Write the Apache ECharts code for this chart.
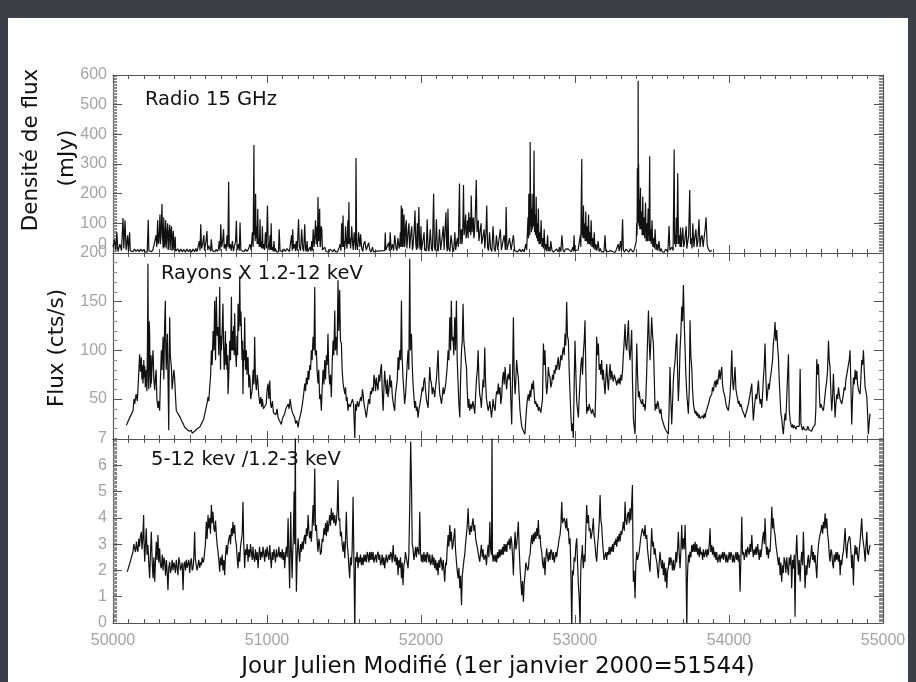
<!DOCTYPE html>
<html><head><meta charset="utf-8">
<script src="https://cdn.jsdelivr.net/npm/echarts@6/dist/echarts.min.js"></script>
<style>html,body{margin:0;padding:0;background:#3c3f45;}#c{width:916px;height:682px;}</style>
</head><body><div id="c"></div>
<script>
// ---------- DATA (MJD, value) ----------
const xTicks = [50000, 51000, 52000, 53000, 54000, 55000];
const panelTitles = ["Radio 15 GHz", "Rayons X 1.2-12 keV", "5-12 kev /1.2-3 keV"];
const radioData = [[50000,20],[50010,45],[50018,10],[50025,70],[50032,5],[50045,30],[50055,8],[50065,118],[50070,15],[50078,110],[50085,10],[50095,60],[50100,5],[50108,70],[50112,8],[50120,14],[50130,4],[50140,13],[50150,5],[50160,12],[50170,4],[50180,13],[50190,5],[50200,12],[50208,4],[50215,10],[50222,3],[50229,112],[50233,8],[50240,14],[50250,4],[50260,12],[50272,12],[50280,60],[50284,20],[50290,110],[50294,30],[50298,40],[50302,90],[50305,130],[50308,30],[50312,60],[50318,165],[50322,50],[50326,15],[50330,120],[50333,20],[50336,30],[50342,110],[50345,15],[50348,20],[50352,80],[50355,100],[50358,10],[50360,20],[50364,70],[50368,95],[50371,10],[50374,15],[50377,80],[50380,90],[50383,8],[50386,15],[50389,60],[50392,75],[50395,10],[50398,20],[50401,40],[50404,55],[50407,6],[50410,8],[50420,14],[50430,3],[50440,13],[50450,4],[50460,12],[50470,3],[50480,13],[50490,4],[50500,12],[50510,3],[50520,13],[50530,4],[50538,15],[50545,5],[50552,20],[50560,40],[50565,8],[50570,97],[50575,15],[50582,30],[50590,60],[50594,8],[50598,10],[50604,40],[50610,74],[50615,10],[50622,25],[50630,30],[50634,6],[50638,46],[50645,8],[50652,14],[50660,4],[50670,12],[50678,5],[50685,15],[50690,40],[50695,8],[50700,97],[50705,20],[50712,40],[50718,80],[50722,15],[50730,30],[50735,8],[50740,60],[50746,20],[50751,240],[50755,15],[50762,30],[50768,8],[50775,40],[50782,6],[50790,10],[50796,40],[50801,109],[50806,10],[50815,30],[50820,8],[50825,103],[50830,10],[50840,14],[50850,4],[50860,13],[50870,5],[50880,14],[50890,30],[50897,10],[50905,70],[50910,20],[50915,364],[50918,60],[50920,150],[50923,40],[50926,200],[50929,50],[50932,90],[50936,30],[50940,149],[50943,30],[50946,50],[50950,20],[50955,114],[50958,20],[50962,40],[50966,15],[50970,90],[50974,15],[50978,30],[50984,10],[50990,70],[50996,15],[51003,160],[51008,30],[51014,10],[51020,60],[51024,10],[51027,100],[51031,10],[51035,20],[51040,5],[51045,40],[51050,5],[51055,15],[51062,4],[51070,10],[51075,4],[51079,80],[51085,8],[51092,14],[51100,4],[51110,13],[51120,5],[51130,15],[51140,20],[51146,5],[51152,30],[51160,60],[51164,8],[51167,80],[51172,15],[51180,30],[51185,6],[51190,40],[51196,8],[51205,114],[51210,20],[51218,8],[51225,80],[51232,15],[51238,6],[51245,97],[51250,15],[51255,5],[51260,40],[51265,4],[51270,10],[51280,20],[51285,5],[51290,40],[51295,8],[51300,80],[51306,20],[51310,50],[51315,110],[51320,30],[51325,90],[51328,20],[51331,189],[51336,40],[51340,100],[51342,149],[51345,20],[51348,30],[51352,90],[51356,80],[51360,10],[51362,15],[51368,4],[51375,20],[51384,5],[51394,10],[51402,3],[51410,13],[51420,12],[51428,4],[51436,13],[51445,4],[51450,10],[51458,4],[51466,14],[51475,30],[51480,8],[51485,100],[51490,20],[51494,126],[51497,20],[51500,40],[51505,10],[51510,90],[51516,30],[51520,15],[51525,110],[51528,30],[51532,172],[51535,30],[51538,50],[51543,15],[51550,90],[51556,30],[51560,10],[51566,70],[51572,30],[51575,10],[51578,320],[51582,30],[51588,10],[51595,70],[51603,20],[51608,63],[51615,15],[51622,5],[51628,30],[51635,40],[51645,10],[51652,4],[51660,35],[51668,10],[51676,3],[51685,20],[51692,4],[51700,8],[51709,6],[51764,8],[51768,69],[51772,10],[51780,5],[51790,35],[51795,8],[51800,70],[51806,10],[51810,6],[51815,30],[51822,8],[51830,60],[51838,15],[51844,8],[51850,50],[51858,15],[51862,30],[51866,70],[51869,20],[51872,160],[51876,60],[51878,20],[51880,150],[51883,20],[51885,40],[51888,110],[51890,130],[51893,20],[51896,30],[51900,90],[51905,110],[51908,15],[51912,20],[51918,80],[51922,100],[51926,15],[51930,20],[51935,70],[51940,90],[51944,10],[51948,20],[51955,70],[51961,143],[51966,30],[51971,10],[51976,100],[51980,15],[51986,155],[51991,30],[51995,10],[52000,90],[52004,10],[52008,15],[52014,5],[52020,70],[52024,8],[52028,15],[52034,6],[52040,114],[52046,15],[52052,6],[52060,80],[52068,15],[52074,6],[52082,200],[52087,20],[52093,8],[52100,114],[52106,15],[52112,6],[52120,80],[52128,10],[52136,5],[52145,90],[52150,10],[52156,4],[52162,137],[52167,20],[52171,6],[52175,149],[52180,15],[52188,5],[52195,60],[52205,15],[52212,5],[52220,70],[52225,10],[52230,30],[52236,50],[52242,20],[52250,234],[52254,30],[52258,70],[52262,80],[52265,30],[52268,40],[52272,100],[52276,229],[52280,60],[52285,90],[52290,130],[52293,50],[52296,60],[52302,110],[52306,50],[52310,137],[52316,70],[52320,120],[52323,60],[52326,194],[52332,70],[52336,110],[52340,120],[52343,50],[52346,60],[52352,120],[52359,246],[52364,70],[52368,90],[52372,110],[52376,40],[52380,40],[52385,80],[52390,100],[52394,30],[52398,30],[52404,60],[52410,80],[52414,15],[52418,20],[52422,70],[52427,160],[52432,20],[52438,8],[52445,70],[52452,15],[52460,5],[52468,90],[52475,15],[52482,5],[52490,60],[52498,10],[52506,5],[52515,80],[52522,10],[52530,5],[52540,60],[52548,10],[52553,155],[52558,10],[52566,4],[52575,50],[52585,10],[52592,4],[52600,60],[52608,8],[52618,14],[52630,4],[52640,13],[52650,4],[52660,12],[52670,4],[52680,30],[52686,10],[52690,60],[52695,120],[52698,50],[52700,200],[52703,80],[52705,140],[52707,60],[52709,374],[52712,90],[52714,200],[52717,70],[52720,150],[52723,80],[52727,200],[52730,90],[52734,345],[52737,70],[52740,130],[52744,60],[52748,190],[52751,50],[52755,100],[52758,40],[52762,150],[52766,30],[52770,70],[52775,30],[52780,110],[52785,20],[52790,50],[52795,15],[52800,80],[52805,10],[52810,30],[52816,5],[52822,60],[52827,6],[52832,20],[52838,5],[52843,40],[52850,10],[52860,3],[52870,8],[52880,14],[52890,4],[52900,20],[52908,5],[52915,60],[52922,10],[52930,3],[52938,13],[52945,8],[52955,14],[52965,10],[52975,4],[52985,20],[52990,5],[52994,60],[52998,8],[53008,14],[53020,10],[53028,4],[53035,60],[53038,20],[53040,150],[53044,317],[53046,60],[53048,120],[53052,50],[53055,160],[53058,50],[53062,100],[53066,40],[53070,140],[53074,40],[53078,90],[53083,30],[53088,130],[53092,30],[53095,70],[53100,25],[53105,110],[53110,20],[53115,50],[53120,15],[53125,70],[53130,10],[53135,30],[53142,8],[53150,40],[53157,5],[53165,15],[53172,4],[53180,10],[53188,4],[53195,60],[53200,8],[53208,14],[53215,4],[53230,8],[53240,14],[53248,4],[53255,10],[53262,3],[53270,14],[53280,30],[53287,6],[53295,40],[53302,8],[53309,114],[53314,10],[53322,3],[53330,13],[53340,8],[53350,3],[53360,14],[53370,8],[53378,3],[53386,13],[53395,10],[53398,40],[53400,100],[53403,60],[53405,286],[53407,120],[53408,200],[53409,100],[53410,581],[53412,130],[53413,300],[53416,90],[53418,180],[53421,80],[53425,220],[53428,80],[53432,140],[53436,60],[53440,190],[53444,60],[53448,120],[53452,50],[53458,170],[53462,40],[53466,100],[53470,40],[53475,150],[53480,40],[53485,326],[53488,40],[53490,80],[53495,30],[53500,110],[53505,20],[53510,50],[53515,15],[53520,80],[53526,10],[53532,30],[53538,8],[53545,40],[53552,5],[53560,15],[53566,4],[53573,10],[53580,3],[53588,13],[53595,12],[53603,4],[53611,91],[53616,10],[53623,4],[53630,20],[53637,8],[53644,349],[53647,30],[53650,60],[53654,20],[53658,120],[53662,30],[53667,269],[53672,30],[53678,60],[53682,20],[53685,86],[53690,20],[53695,50],[53700,86],[53705,20],[53710,30],[53716,60],[53722,90],[53726,15],[53730,20],[53738,60],[53745,212],[53750,30],[53756,50],[53760,15],[53765,100],[53772,20],[53778,50],[53785,80],[53792,20],[53798,40],[53805,114],[53812,20],[53818,50],[53825,60],[53832,20],[53838,50],[53845,80],[53851,120],[53858,30],[53864,15],[53870,20],[53875,5],[53880,10],[53885,4],[53889,8]];
const xrayData = [[50087,23],[50100,28],[50115,33],[50130,38],[50136,50],[50141,45],[50150,55],[50158,48],[50165,70],[50173,96],[50178,78],[50184,93],[50188,70],[50190,85],[50195,66],[50200,90],[50203,72],[50206,84],[50210,62],[50216,80],[50220,58],[50224,110],[50227,189],[50230,70],[50232,60],[50235,130],[50238,117],[50241,75],[50244,62],[50247,95],[50249,66],[50254,85],[50260,100],[50265,70],[50271,59],[50275,72],[50280,80],[50285,50],[50292,41],[50297,48],[50303,38],[50308,70],[50314,100],[50318,80],[50325,114],[50328,90],[50330,70],[50335,125],[50340,151],[50343,100],[50346,80],[50350,105],[50353,117],[50358,60],[50362,18],[50365,90],[50368,134],[50372,95],[50379,83],[50384,60],[50390,59],[50395,80],[50400,72],[50405,55],[50411,38],[50416,40],[50422,35],[50430,37],[50437,31],[50444,28],[50452,30],[50458,24],[50465,21],[50472,22],[50480,19],[50487,18],[50495,17],[50500,16],[50508,18],[50514,15],[50520,16],[50530,17],[50541,18],[50550,20],[50556,18],[50563,21],[50572,24],[50580,26],[50588,29],[50595,31],[50603,40],[50610,45],[50617,52],[50622,48],[50628,62],[50634,75],[50639,100],[50644,85],[50650,120],[50655,100],[50660,151],[50663,110],[50666,90],[50669,140],[50671,155],[50676,115],[50682,124],[50687,95],[50693,165],[50696,110],[50698,80],[50701,115],[50704,100],[50709,120],[50714,148],[50718,105],[50722,80],[50725,90],[50730,120],[50733,85],[50736,107],[50740,80],[50744,95],[50747,55],[50752,75],[50758,110],[50763,90],[50769,155],[50772,100],[50776,120],[50779,100],[50784,125],[50787,95],[50790,138],[50795,100],[50801,83],[50805,115],[50809,95],[50812,148],[50816,120],[50820,135],[50823,176],[50827,125],[50831,140],[50834,117],[50838,90],[50841,110],[50844,55],[50848,100],[50851,90],[50855,134],[50860,80],[50866,100],[50870,75],[50873,90],[50877,93],[50882,62],[50886,75],[50890,70],[50894,50],[50898,48],[50904,60],[50910,80],[50915,65],[50920,114],[50925,70],[50931,59],[50936,75],[50940,70],[50946,55],[50953,45],[50960,52],[50965,42],[50970,50],[50977,40],[50985,38],[50995,45],[51001,60],[51007,66],[51012,50],[51018,69],[51023,45],[51028,41],[51035,48],[51042,36],[51050,38],[51058,34],[51065,40],[51072,31],[51080,28],[51086,30],[51093,24],[51100,30],[51108,28],[51115,35],[51122,40],[51129,38],[51137,45],[51144,40],[51150,50],[51158,41],[51165,36],[51172,38],[51180,31],[51186,25],[51194,28],[51202,21],[51208,28],[51216,33],[51223,38],[51230,45],[51238,55],[51245,66],[51250,58],[51256,72],[51262,65],[51267,79],[51272,70],[51278,85],[51283,80],[51288,100],[51293,90],[51299,114],[51305,100],[51310,165],[51314,95],[51321,100],[51325,80],[51331,66],[51336,80],[51342,50],[51347,55],[51353,38],[51358,60],[51364,80],[51370,65],[51375,90],[51380,70],[51386,95],[51391,85],[51396,117],[51401,80],[51407,65],[51412,75],[51418,52],[51423,85],[51429,110],[51434,95],[51440,141],[51444,100],[51450,114],[51455,95],[51461,172],[51466,120],[51472,162],[51477,110],[51483,107],[51488,80],[51494,66],[51500,60],[51506,55],[51510,62],[51515,48],[51520,52],[51526,38],[51532,45],[51540,42],[51548,41],[51555,50],[51562,45],[51570,10],[51575,45],[51580,38],[51587,48],[51595,42],[51602,41],[51608,52],[51614,48],[51620,60],[51624,55],[51630,45],[51638,38],[51645,31],[51652,40],[51660,50],[51667,45],[51672,58],[51678,55],[51684,62],[51690,58],[51695,75],[51700,69],[51705,58],[51710,72],[51715,65],[51721,59],[51726,75],[51732,68],[51738,80],[51743,86],[51748,60],[51754,38],[51759,60],[51764,79],[51770,65],[51776,55],[51781,70],[51786,52],[51792,60],[51798,75],[51803,62],[51808,69],[51813,55],[51818,48],[51824,42],[51829,38],[51834,55],[51840,62],[51846,70],[51851,93],[51856,80],[51862,100],[51868,90],[51873,151],[51877,95],[51883,72],[51888,60],[51894,45],[51900,55],[51905,70],[51910,85],[51916,100],[51921,80],[51927,194],[51931,100],[51938,117],[51943,85],[51948,66],[51953,55],[51959,41],[51964,48],[51970,38],[51975,42],[51981,31],[51987,40],[51993,45],[51998,50],[52003,55],[52008,62],[52013,58],[52018,68],[52024,72],[52030,58],[52035,50],[52040,48],[52046,41],[52051,60],[52057,83],[52062,70],[52068,66],[52073,55],[52078,62],[52084,58],[52089,52],[52094,62],[52100,70],[52106,85],[52111,100],[52116,70],[52122,55],[52128,50],[52133,45],[52138,52],[52144,62],[52149,55],[52154,59],[52160,65],[52166,75],[52171,85],[52176,100],[52181,90],[52187,134],[52192,100],[52197,151],[52202,110],[52208,114],[52213,95],[52219,134],[52224,100],[52230,151],[52235,90],[52241,66],[52246,45],[52252,31],[52257,70],[52263,100],[52268,110],[52273,148],[52278,110],[52284,100],[52289,90],[52295,83],[52300,60],[52306,41],[52311,50],[52317,38],[52323,45],[52330,40],[52337,48],[52343,42],[52349,35],[52355,55],[52360,70],[52366,80],[52371,100],[52376,70],[52381,55],[52387,50],[52392,41],[52397,55],[52403,70],[52408,62],[52414,103],[52419,70],[52425,50],[52430,45],[52436,38],[52442,42],[52447,48],[52452,40],[52458,31],[52463,40],[52468,50],[52474,42],[52481,38],[52486,50],[52491,58],[52497,55],[52502,66],[52507,55],[52513,62],[52518,45],[52524,52],[52529,70],[52535,78],[52540,65],[52546,83],[52551,70],[52556,60],[52562,72],[52567,76],[52572,70],[52578,86],[52583,50],[52589,24],[52594,70],[52600,134],[52605,75],[52611,55],[52616,70],[52621,90],[52626,80],[52632,72],[52637,55],[52643,38],[52648,30],[52654,22],[52660,20],[52665,17],[52670,18],[52675,14],[52681,30],[52686,42],[52691,50],[52697,55],[52702,48],[52708,59],[52713,52],[52719,66],[52724,60],[52730,69],[52735,55],[52740,45],[52745,48],[52751,42],[52756,45],[52762,38],[52767,42],[52773,40],[52778,36],[52784,35],[52789,50],[52795,107],[52800,85],[52805,100],[52811,70],[52816,55],[52822,65],[52827,83],[52832,75],[52838,72],[52843,62],[52849,66],[52854,75],[52860,70],[52865,80],[52870,76],[52876,85],[52881,80],[52887,88],[52892,93],[52897,80],[52903,85],[52908,95],[52914,90],[52919,98],[52924,103],[52930,95],[52935,117],[52940,105],[52946,150],[52951,115],[52957,110],[52962,80],[52968,55],[52973,35],[52979,17],[52984,25],[52989,10],[52994,60],[53000,110],[53005,80],[53011,48],[53016,40],[53022,31],[53027,50],[53033,70],[53038,85],[53044,93],[53049,75],[53054,96],[53060,110],[53065,131],[53070,80],[53076,35],[53081,42],[53087,38],[53092,45],[53098,40],[53103,38],[53108,35],[53114,40],[53119,36],[53125,34],[53130,31],[53135,60],[53141,114],[53146,95],[53152,107],[53157,80],[53163,86],[53168,75],[53173,90],[53179,70],[53184,80],[53190,65],[53195,55],[53200,70],[53206,86],[53211,70],[53217,59],[53222,75],[53228,86],[53233,70],[53238,79],[53244,72],[53249,68],[53255,75],[53260,72],[53266,68],[53271,64],[53277,70],[53282,66],[53287,72],[53293,65],[53298,75],[53303,69],[53309,80],[53314,95],[53320,110],[53325,127],[53330,105],[53336,100],[53341,115],[53347,131],[53352,100],[53357,90],[53363,105],[53368,121],[53373,70],[53379,31],[53384,22],[53390,14],[53395,60],[53401,107],[53406,75],[53412,52],[53417,58],[53422,50],[53428,48],[53433,45],[53439,50],[53444,42],[53450,45],[53455,38],[53460,50],[53466,80],[53471,110],[53477,141],[53482,110],[53487,90],[53493,110],[53498,134],[53504,115],[53509,107],[53515,70],[53520,38],[53525,45],[53531,40],[53536,48],[53541,45],[53547,38],[53552,35],[53558,40],[53563,31],[53568,28],[53574,25],[53579,22],[53585,21],[53590,18],[53595,20],[53600,16],[53606,14],[53611,40],[53617,83],[53622,50],[53628,24],[53633,45],[53639,70],[53644,80],[53650,90],[53655,105],[53661,117],[53666,80],[53671,48],[53677,70],[53682,100],[53688,120],[53693,145],[53698,130],[53704,167],[53709,130],[53715,100],[53720,75],[53726,55],[53731,45],[53736,35],[53742,60],[53747,131],[53752,95],[53758,83],[53763,60],[53769,45],[53774,40],[53780,35],[53785,38],[53790,33],[53796,36],[53801,31],[53807,34],[53812,30],[53818,32],[53823,28],[53829,33],[53834,30],[53840,35],[53845,31],[53850,36],[53856,38],[53861,42],[53866,41],[53872,48],[53877,52],[53882,50],[53888,55],[53893,62],[53899,58],[53904,65],[53910,69],[53915,62],[53920,70],[53926,65],[53931,72],[53937,80],[53942,70],[53948,78],[53953,83],[53958,65],[53964,58],[53969,55],[53974,52],[53980,45],[53985,42],[53990,40],[53996,38],[54001,45],[54007,55],[54012,70],[54018,100],[54023,70],[54029,59],[54034,70],[54039,83],[54045,60],[54050,55],[54056,50],[54061,45],[54066,48],[54072,42],[54077,45],[54083,41],[54088,38],[54094,36],[54099,34],[54104,31],[54110,35],[54115,38],[54121,40],[54126,45],[54131,50],[54137,55],[54142,60],[54148,66],[54153,45],[54158,28],[54164,40],[54169,48],[54175,55],[54180,50],[54186,60],[54191,69],[54196,55],[54202,45],[54207,50],[54213,41],[54218,55],[54223,70],[54229,85],[54234,107],[54240,70],[54245,48],[54250,55],[54256,66],[54261,60],[54267,70],[54272,75],[54278,83],[54283,90],[54288,107],[54294,115],[54299,129],[54304,110],[54310,121],[54315,105],[54321,93],[54326,70],[54332,50],[54337,35],[54342,31],[54348,20],[54353,14],[54358,25],[54364,35],[54369,28],[54375,30],[54380,26],[54386,96],[54391,40],[54397,28],[54402,24],[54407,21],[54413,24],[54418,20],[54424,23],[54429,21],[54434,19],[54440,22],[54445,20],[54451,24],[54456,22],[54462,81],[54467,25],[54472,21],[54478,18],[54483,22],[54489,19],[54494,17],[54500,21],[54505,18],[54511,22],[54516,21],[54521,18],[54527,20],[54532,16],[54537,17],[54543,20],[54548,18],[54554,22],[54559,24],[54564,40],[54570,91],[54575,75],[54581,86],[54586,60],[54591,41],[54597,45],[54602,42],[54608,40],[54613,38],[54618,45],[54624,55],[54629,62],[54635,69],[54640,80],[54646,110],[54651,90],[54656,83],[54662,55],[54667,38],[54672,50],[54678,76],[54683,55],[54689,31],[54694,45],[54700,55],[54705,50],[54711,62],[54716,55],[54721,50],[54727,52],[54732,45],[54738,50],[54743,55],[54748,62],[54754,59],[54759,70],[54765,75],[54770,80],[54776,86],[54781,90],[54786,100],[54792,60],[54797,24],[54802,50],[54808,72],[54813,65],[54819,80],[54824,70],[54830,79],[54835,65],[54840,60],[54846,58],[54851,55],[54856,70],[54862,90],[54867,85],[54873,100],[54878,80],[54884,62],[54889,58],[54895,52],[54900,35],[54905,14],[54910,25],[54916,35]];
const ratioData = [[50093,1.95],[50100,2.1],[50108,2.25],[50115,2.4],[50122,2.55],[50130,2.71],[50135,3.0],[50141,2.97],[50146,2.7],[50152,3.1],[50157,2.8],[50162,2.71],[50167,3.2],[50172,2.9],[50178,3.3],[50184,3.47],[50188,2.8],[50193,3.2],[50199,4.11],[50202,3.0],[50206,2.33],[50211,3.0],[50216,3.6],[50221,2.6],[50227,2.97],[50232,2.3],[50238,1.7],[50243,2.6],[50249,3.47],[50254,2.4],[50260,1.7],[50265,2.5],[50271,1.57],[50276,2.4],[50281,3.09],[50286,2.4],[50292,3.35],[50297,2.3],[50303,2.84],[50308,2.2],[50314,2.08],[50320,2.6],[50325,2.0],[50331,2.5],[50336,2.33],[50341,1.8],[50347,2.4],[50352,1.9],[50357,1.25],[50362,2.1],[50368,2.33],[50373,1.9],[50379,2.08],[50384,2.4],[50390,2.0],[50395,2.3],[50400,2.2],[50405,1.9],[50411,2.4],[50416,2.1],[50422,1.82],[50427,2.5],[50433,2.33],[50438,2.0],[50444,1.95],[50449,2.3],[50455,1.25],[50460,2.2],[50465,2.33],[50471,2.0],[50476,2.4],[50481,2.1],[50487,2.08],[50492,2.4],[50498,1.9],[50503,2.3],[50509,2.46],[50514,2.0],[50520,2.08],[50525,2.5],[50530,3.47],[50535,2.4],[50541,2.33],[50546,2.0],[50552,2.2],[50557,2.4],[50563,2.1],[50568,2.3],[50574,2.2],[50579,2.5],[50585,2.3],[50590,2.4],[50595,2.33],[50600,3.0],[50606,3.85],[50611,3.2],[50617,4.11],[50622,3.6],[50628,4.0],[50633,3.4],[50639,4.49],[50644,3.8],[50649,4.23],[50655,3.6],[50660,3.47],[50666,3.9],[50671,3.35],[50676,3.0],[50682,2.71],[50687,2.4],[50693,1.95],[50698,2.5],[50704,2.2],[50709,2.6],[50714,2.0],[50720,2.4],[50725,1.82],[50730,2.5],[50736,2.97],[50741,2.6],[50747,2.97],[50752,3.2],[50758,3.35],[50763,3.0],[50769,3.6],[50774,3.3],[50779,3.85],[50784,3.4],[50790,3.73],[50795,3.2],[50801,2.97],[50806,2.5],[50812,2.08],[50817,2.7],[50823,2.33],[50828,2.9],[50834,2.97],[50839,3.4],[50844,4.61],[50849,3.0],[50855,2.08],[50860,2.8],[50866,2.59],[50871,3.0],[50877,2.33],[50882,2.8],[50888,2.5],[50893,3.0],[50898,2.71],[50904,2.4],[50909,2.9],[50914,2.5],[50920,2.33],[50925,2.8],[50931,2.4],[50936,2.7],[50942,2.08],[50947,2.6],[50952,2.9],[50958,2.4],[50963,2.71],[50969,2.5],[50974,2.9],[50980,2.6],[50985,2.33],[50990,2.8],[50996,2.5],[51001,2.9],[51007,2.59],[51012,2.4],[51018,2.97],[51023,2.5],[51028,2.08],[51034,2.7],[51039,2.4],[51045,2.8],[51050,2.59],[51055,2.3],[51061,2.8],[51066,2.5],[51072,2.59],[51077,2.9],[51082,2.5],[51088,2.7],[51093,2.46],[51099,2.8],[51104,2.4],[51110,2.7],[51115,2.08],[51120,2.6],[51126,2.9],[51131,2.5],[51137,3.98],[51142,2.6],[51147,1.32],[51150,2.6],[51154,4.23],[51158,2.8],[51163,1.7],[51167,2.7],[51171,3.22],[51176,5.0],[51180,3.0],[51184,7.3],[51187,3.0],[51191,1.19],[51196,2.6],[51202,3.22],[51207,2.7],[51212,2.33],[51218,3.0],[51223,2.71],[51229,3.1],[51234,2.8],[51240,3.2],[51245,3.35],[51250,3.0],[51256,3.6],[51261,3.3],[51267,4.11],[51272,3.5],[51277,3.22],[51283,3.5],[51288,3.09],[51293,3.6],[51299,4.49],[51304,3.7],[51310,5.88],[51315,3.5],[51321,3.73],[51326,3.1],[51331,2.71],[51337,3.2],[51342,2.97],[51347,2.6],[51353,2.71],[51358,3.2],[51364,3.09],[51369,3.6],[51375,3.35],[51380,3.8],[51386,3.3],[51391,3.9],[51396,3.47],[51402,3.8],[51407,4.11],[51412,3.7],[51418,4.36],[51423,3.9],[51429,4.2],[51434,3.8],[51440,4.11],[51445,3.7],[51450,3.85],[51456,4.3],[51461,5.44],[51466,3.9],[51472,3.98],[51477,3.3],[51483,3.47],[51488,3.0],[51494,2.71],[51499,3.1],[51505,2.46],[51510,3.2],[51515,4.23],[51521,3.0],[51526,2.71],[51531,2.2],[51537,1.7],[51542,2.5],[51548,2.2],[51553,2.8],[51559,4.8],[51564,2.5],[51570,-0.3],[51575,2.5],[51580,2.33],[51585,2.7],[51591,2.08],[51596,2.5],[51602,2.3],[51607,2.6],[51613,2.2],[51618,2.5],[51624,2.2],[51629,2.6],[51635,2.33],[51640,2.6],[51646,2.3],[51651,2.7],[51656,2.59],[51662,2.3],[51667,2.7],[51672,2.4],[51678,2.71],[51683,2.4],[51689,2.7],[51694,2.3],[51700,2.33],[51705,2.6],[51711,2.3],[51716,2.6],[51721,2.71],[51727,2.4],[51732,2.6],[51738,2.2],[51743,2.33],[51748,2.6],[51754,2.2],[51759,2.5],[51764,2.08],[51770,2.4],[51775,2.6],[51781,2.3],[51786,2.33],[51792,2.6],[51797,2.4],[51803,2.7],[51808,2.59],[51813,2.3],[51819,2.97],[51824,2.5],[51829,2.33],[51835,2.6],[51840,2.2],[51846,2.5],[51851,1.82],[51856,2.4],[51862,2.1],[51867,2.5],[51873,1.7],[51878,2.3],[51883,1.44],[51889,2.2],[51894,2.33],[51899,2.7],[51905,2.71],[51910,2.3],[51916,2.08],[51921,2.6],[51927,4.49],[51933,6.9],[51938,5.37],[51943,3.0],[51948,2.84],[51954,2.4],[51959,2.59],[51965,2.9],[51970,2.5],[51976,2.9],[51981,2.97],[51987,2.6],[51992,4.23],[51997,2.7],[52003,2.33],[52008,2.6],[52013,2.3],[52019,2.7],[52024,2.33],[52030,2.6],[52035,2.3],[52040,2.7],[52046,2.59],[52051,2.3],[52057,2.6],[52062,2.2],[52068,2.33],[52073,2.6],[52078,2.2],[52084,2.5],[52089,2.08],[52095,2.4],[52100,2.0],[52106,2.3],[52111,1.82],[52116,2.4],[52122,2.1],[52127,2.5],[52133,2.33],[52138,2.0],[52144,2.4],[52149,2.0],[52154,1.57],[52160,2.3],[52165,2.2],[52170,2.8],[52176,3.35],[52181,2.9],[52187,3.73],[52192,3.1],[52197,3.47],[52203,2.8],[52208,2.97],[52214,3.3],[52219,3.6],[52224,2.8],[52230,2.33],[52235,2.0],[52241,1.7],[52246,2.1],[52252,1.32],[52257,1.8],[52263,0.68],[52268,1.8],[52273,2.08],[52279,2.4],[52284,2.59],[52289,3.0],[52295,3.35],[52300,3.7],[52306,4.36],[52311,3.6],[52317,3.35],[52322,3.7],[52328,3.47],[52333,3.8],[52338,3.98],[52344,3.5],[52349,3.73],[52355,3.2],[52360,3.22],[52365,2.9],[52371,2.84],[52376,2.5],[52382,2.33],[52387,2.7],[52392,2.97],[52398,2.5],[52403,2.8],[52409,2.4],[52414,2.33],[52419,2.6],[52425,2.2],[52430,2.6],[52436,2.97],[52441,2.5],[52447,3.85],[52452,2.8],[52458,2.59],[52461,7.3],[52464,2.6],[52468,2.33],[52474,2.6],[52481,2.33],[52486,2.6],[52491,2.3],[52497,2.7],[52502,2.46],[52508,2.8],[52513,2.5],[52519,2.8],[52524,2.59],[52530,2.9],[52535,2.6],[52540,3.0],[52546,2.71],[52551,3.0],[52557,2.7],[52562,3.1],[52567,2.97],[52573,3.2],[52578,2.8],[52584,3.3],[52589,3.09],[52594,2.6],[52600,1.82],[52605,2.8],[52611,3.47],[52616,2.8],[52621,2.97],[52627,3.4],[52632,3.85],[52637,2.9],[52643,2.08],[52648,1.6],[52654,1.06],[52659,1.6],[52665,0.81],[52670,1.5],[52675,1.82],[52681,2.3],[52686,2.33],[52692,2.0],[52697,2.08],[52703,2.5],[52708,2.59],[52713,3.0],[52719,3.35],[52724,3.0],[52730,3.4],[52735,3.1],[52740,3.47],[52746,3.2],[52751,3.6],[52756,3.3],[52762,3.92],[52767,3.2],[52773,3.35],[52778,2.9],[52784,2.71],[52789,2.3],[52795,2.08],[52800,2.5],[52805,1.82],[52811,2.5],[52816,2.84],[52822,2.5],[52827,2.33],[52832,2.7],[52838,2.4],[52843,2.8],[52849,2.71],[52854,2.4],[52860,2.7],[52865,2.3],[52870,2.33],[52876,2.7],[52881,2.5],[52887,2.8],[52892,2.97],[52897,3.2],[52903,3.35],[52908,3.7],[52914,4.61],[52919,3.8],[52924,3.73],[52930,4.0],[52935,3.85],[52940,3.6],[52946,3.98],[52951,3.5],[52957,3.6],[52962,3.0],[52968,3.22],[52973,2.0],[52979,-0.2],[52984,2.0],[52989,1.82],[52995,2.5],[53000,2.33],[53005,2.9],[53011,3.22],[53016,2.4],[53022,1.44],[53027,1.0],[53033,-0.2],[53036,1.5],[53039,2.33],[53044,2.6],[53048,2.97],[53051,2.4],[53054,2.08],[53060,2.6],[53065,2.33],[53070,3.4],[53076,4.49],[53081,3.8],[53087,4.11],[53092,3.5],[53098,3.6],[53103,3.2],[53108,3.35],[53114,3.6],[53119,3.98],[53124,3.3],[53130,2.97],[53135,2.6],[53141,2.33],[53146,2.9],[53152,3.35],[53157,3.8],[53163,4.87],[53168,3.9],[53173,3.73],[53179,3.1],[53184,2.71],[53189,2.4],[53195,2.33],[53200,2.7],[53206,2.4],[53211,2.7],[53217,2.59],[53222,2.9],[53228,2.6],[53233,2.9],[53238,2.71],[53244,3.0],[53249,2.7],[53255,3.1],[53260,2.97],[53265,3.2],[53271,2.9],[53276,3.3],[53282,3.09],[53287,3.4],[53293,3.1],[53298,3.5],[53303,3.35],[53309,3.6],[53314,3.85],[53320,3.5],[53325,4.61],[53330,3.9],[53336,3.73],[53341,4.1],[53347,4.23],[53352,3.8],[53357,4.36],[53363,3.9],[53368,3.85],[53373,5.25],[53376,3.0],[53379,1.57],[53384,2.0],[53390,0.94],[53395,2.2],[53401,2.71],[53406,2.4],[53412,2.33],[53417,2.7],[53422,2.97],[53428,3.3],[53433,3.35],[53438,3.6],[53444,3.6],[53449,3.3],[53455,3.73],[53460,3.2],[53466,3.35],[53471,2.8],[53477,2.46],[53482,2.2],[53487,1.95],[53493,2.8],[53498,3.6],[53504,2.9],[53509,3.09],[53514,2.6],[53520,2.84],[53525,2.5],[53531,2.33],[53536,2.0],[53541,1.7],[53547,2.3],[53552,2.71],[53558,2.3],[53563,2.08],[53568,2.4],[53574,1.82],[53579,2.3],[53585,1.57],[53590,2.1],[53596,1.32],[53601,2.0],[53606,2.08],[53612,2.5],[53617,2.2],[53622,2.5],[53628,2.33],[53633,2.0],[53639,2.4],[53644,2.0],[53650,2.2],[53655,2.7],[53660,2.3],[53666,2.8],[53671,3.47],[53677,2.6],[53682,2.08],[53688,2.8],[53693,3.73],[53698,2.8],[53704,3.22],[53709,2.8],[53715,3.73],[53720,2.6],[53726,-0.2],[53729,1.5],[53732,2.08],[53737,2.6],[53742,2.3],[53747,2.71],[53753,2.5],[53758,2.97],[53764,2.7],[53769,3.0],[53775,2.7],[53780,3.09],[53785,2.7],[53791,3.0],[53796,2.6],[53801,2.84],[53807,2.5],[53812,2.9],[53818,2.6],[53823,2.71],[53829,2.4],[53834,2.8],[53840,2.5],[53845,2.46],[53850,2.8],[53856,2.5],[53861,2.8],[53866,2.59],[53872,3.0],[53877,3.6],[53882,2.7],[53888,2.97],[53893,2.6],[53899,2.9],[53904,2.5],[53910,2.71],[53915,2.4],[53920,2.7],[53926,2.3],[53931,2.33],[53937,2.6],[53942,2.3],[53948,2.6],[53953,2.46],[53958,2.7],[53964,2.4],[53969,2.7],[53974,2.59],[53980,2.3],[53985,2.6],[53991,2.3],[53996,2.46],[54001,2.7],[54007,2.4],[54012,2.7],[54018,2.59],[54023,2.3],[54029,2.6],[54034,2.3],[54039,2.46],[54045,2.7],[54050,2.4],[54056,2.7],[54061,2.33],[54066,2.6],[54072,1.19],[54077,2.4],[54083,4.04],[54088,2.6],[54094,2.71],[54099,2.4],[54104,2.46],[54110,2.8],[54115,2.5],[54121,2.9],[54126,2.97],[54131,2.6],[54137,3.0],[54142,2.7],[54148,3.35],[54153,2.8],[54158,2.5],[54164,2.8],[54169,2.59],[54175,2.9],[54180,2.6],[54186,3.0],[54191,2.71],[54197,2.4],[54202,2.8],[54207,2.5],[54213,2.84],[54218,3.2],[54224,3.47],[54229,3.0],[54234,3.98],[54240,3.0],[54245,2.59],[54250,2.9],[54256,2.46],[54261,2.8],[54267,2.71],[54272,3.4],[54278,4.42],[54283,3.6],[54288,3.98],[54294,3.5],[54299,3.35],[54304,3.0],[54310,2.97],[54315,2.5],[54321,2.2],[54326,2.5],[54332,1.82],[54337,2.3],[54342,1.57],[54348,2.2],[54353,1.9],[54358,2.5],[54364,2.33],[54369,1.9],[54375,2.5],[54380,2.1],[54386,1.82],[54391,2.5],[54397,2.2],[54402,2.6],[54407,1.32],[54413,2.4],[54418,2.08],[54424,2.6],[54429,0.24],[54434,2.5],[54440,3.35],[54445,2.5],[54451,1.82],[54456,2.4],[54462,1.57],[54467,2.3],[54472,2.71],[54478,2.2],[54483,3.47],[54489,2.3],[54494,1.32],[54500,2.2],[54505,1.82],[54511,2.4],[54516,2.59],[54521,2.1],[54527,2.08],[54532,2.6],[54537,2.97],[54543,2.4],[54548,2.7],[54554,2.3],[54559,2.59],[54564,2.2],[54570,1.7],[54575,2.5],[54581,2.97],[54586,3.2],[54591,3.35],[54597,3.5],[54602,3.73],[54608,3.4],[54613,3.85],[54618,3.6],[54624,4.17],[54629,3.6],[54635,3.98],[54640,3.4],[54646,3.09],[54651,2.6],[54656,2.33],[54662,2.8],[54667,2.71],[54672,2.3],[54678,2.08],[54683,2.6],[54689,2.33],[54694,2.7],[54700,2.4],[54705,2.7],[54711,2.33],[54716,2.6],[54722,1.82],[54727,2.4],[54732,2.2],[54738,2.6],[54743,2.71],[54748,3.1],[54754,3.6],[54759,2.9],[54765,2.46],[54770,3.0],[54776,2.97],[54781,3.3],[54786,3.22],[54792,2.7],[54797,2.08],[54802,2.6],[54808,1.44],[54813,2.5],[54819,2.97],[54824,2.6],[54830,2.9],[54835,2.5],[54840,2.33],[54846,2.8],[54851,3.09],[54856,3.5],[54862,3.98],[54867,3.3],[54873,3.35],[54878,2.8],[54884,2.33],[54889,2.9],[54895,3.47],[54900,2.7],[54905,2.59],[54910,2.8],[54916,2.97]];

// ---------- CHART ----------
const chart = echarts.init(document.getElementById('c'), null, {renderer: 'canvas'});
const AX = '#555';
const LBL = '#a4a4a4';
const NUMFONT = 'Liberation Sans';
const TXTFONT = 'DejaVu Sans';
const grids = [
  {left: 113, right: 33, top: 75, height: 178},
  {left: 113, right: 33, top: 253, height: 186},
  {left: 113, right: 33, top: 439, height: 184}
];
function xAx(i, pos, labels) {
  return {
    type: 'value', gridIndex: i, position: pos, min: xTicks[0], max: xTicks[xTicks.length - 1], interval: 1000,
    axisLine: {show: true, onZero: false, lineStyle: {color: AX, width: 1.2}},
    axisTick: {show: true, inside: true, length: 8, lineStyle: {color: AX}},
    minorTick: {show: true, splitNumber: 10, length: 4, lineStyle: {color: AX}},
    splitLine: {show: false},
    axisLabel: {show: labels, color: LBL, fontSize: 16, fontFamily: NUMFONT, margin: 10, formatter: v => String(v)},
    name: labels ? 'Jour Julien Modifié (1er janvier 2000=51544)' : '',
    nameLocation: 'middle', nameGap: 33,
    nameTextStyle: {color: '#111', fontSize: 23, fontFamily: TXTFONT}
  };
}
function yAx(i, pos, cfg, labels) {
  return Object.assign({
    type: 'value', gridIndex: i, position: pos,
    axisLine: {show: true, onZero: false, lineStyle: {color: AX, width: 1.2}},
    axisTick: {show: true, inside: true, length: 9, lineStyle: {color: AX}},
    minorTick: {show: true, splitNumber: cfg.minor, length: 4, lineStyle: {color: '#888'}},
    splitLine: {show: false},
    axisLabel: {show: labels, color: LBL, fontSize: 16, fontFamily: NUMFONT, margin: 6, showMinLabel: cfg.showMin}
  }, cfg.range);
}
const yCfg = [
  {range: {min: 0, max: 600, interval: 100}, minor: 20, showMin: false},
  {range: {min: 9, max: 200, splitNumber: 4}, minor: 5, showMin: false},
  {range: {min: 0, max: 7, interval: 1}, minor: 20, showMin: true}
];
const xAxes = [], yAxes = [];
for (let i = 0; i < 3; i++) xAxes.push(xAx(i, 'bottom', i === 2));
for (let i = 0; i < 3; i++) xAxes.push(xAx(i, 'top', false));
for (let i = 0; i < 3; i++) yAxes.push(yAx(i, 'left', yCfg[i], true));
for (let i = 0; i < 3; i++) yAxes.push(yAx(i, 'right', yCfg[i], false));

const seriesData = [radioData, xrayData, ratioData];
const series = seriesData.map((d, i) => ({
  type: 'line', xAxisIndex: i, yAxisIndex: i, data: d, showSymbol: false, symbol: 'none',
  lineStyle: {color: '#111', width: 1.2}, clip: true, animation: false
}));

const titlePos = [[145, 100], [161, 274], [151, 460]];
const graphics = [
  {type: 'rect', shape: {x: 8, y: 18, width: 900, height: 670}, style: {fill: '#ffffff'}, z: -10, silent: true},
  {type: 'text', x: 107, y: 245, z: 50, style: {text: '0', fill: LBL, font: '16px "' + NUMFONT + '"', textAlign: 'right', textVerticalAlign: 'middle'}}
];
panelTitles.forEach((t, i) => graphics.push({
  type: 'text', x: titlePos[i][0], y: titlePos[i][1], z: 50,
  style: {text: t, fill: '#111', font: '19.5px "' + TXTFONT + '"', textAlign: 'left', textVerticalAlign: 'middle'}
}));
const yNames = [['Densité de flux', 31, 150], ['(mJy)', 67, 158], ['Flux (cts/s)', 57, 348]];
yNames.forEach(n => graphics.push({
  type: 'text', x: n[1], y: n[2], rotation: Math.PI / 2, z: 50,
  style: {text: n[0], fill: '#111', font: '21.5px "' + TXTFONT + '"', textAlign: 'center', textVerticalAlign: 'middle'}
}));

chart.setOption({
  animation: false,
  backgroundColor: '#3c3f45',
  grid: grids,
  xAxis: xAxes,
  yAxis: yAxes,
  series: series,
  graphic: graphics
});
</script></body></html>
